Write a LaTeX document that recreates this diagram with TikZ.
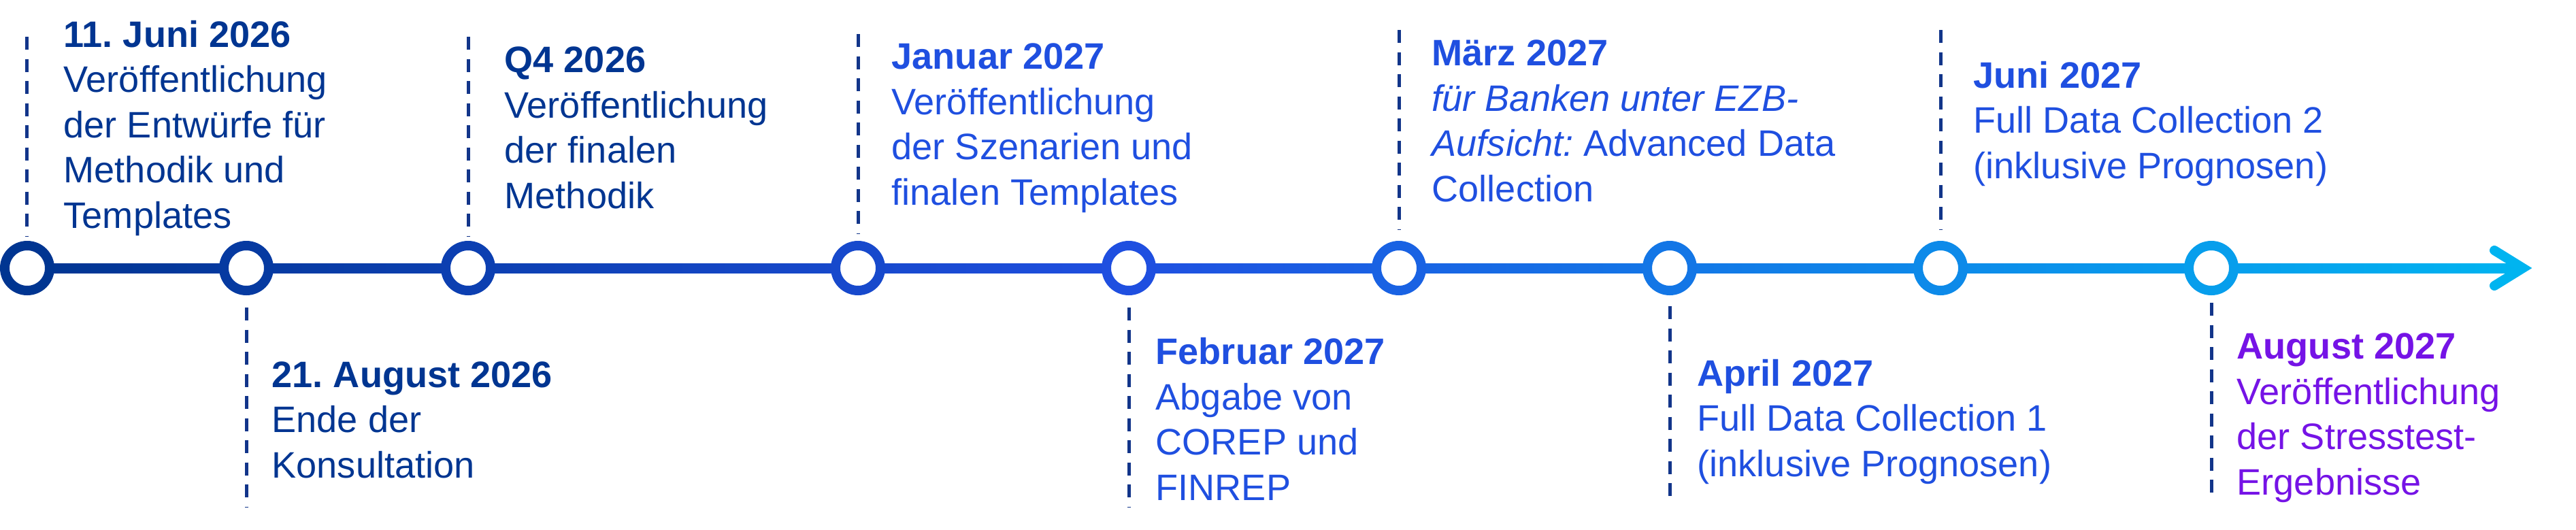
\documentclass[tikz,border=0pt]{standalone}
\usepackage{fontspec}
\setmainfont{Liberation Sans}
\usepackage{xcolor}
\usepackage{tikz}
\usetikzlibrary{backgrounds}
\definecolor{tlnavy}{HTML}{003591}
\definecolor{tlblue}{HTML}{1F4FE0}
\definecolor{tlsky}{HTML}{00B4F0}
\definecolor{tlviolet}{HTML}{7513E6}
\definecolor{tldash}{HTML}{12358A}
\pgfdeclarehorizontalshading{tlgrad}{100bp}{color(0bp)=(tlnavy); color(25bp)=(tlnavy); color(47bp)=(tlblue); color(75bp)=(tlsky); color(100bp)=(tlsky)}
\frenchspacing
\tikzset{
  ring/.style={circle,fill=white,line width=0.14cm,minimum size=0.66cm,inner sep=0pt},
  guide/.style={tldash,line width=0.05cm,dash pattern=on 0.19cm off 0.135cm},
  event/.style={anchor=base west,align=left,inner sep=0pt,font=\fontsize{15.4}{18.9}\selectfont}
}

\begin{document}
\begin{tikzpicture}[x=1cm,y=1cm]
  \useasboundingbox (0,0) rectangle (37.86,7.78);
  % milestones on the time axis
  \node[ring,draw=tlnavy] (m1) at (0.40,3.84) {};
  \node[ring,draw=tlblue!20!tlnavy] (m2) at (3.62,3.84) {};
  \node[ring,draw=tlblue!40!tlnavy] (m3) at (6.88,3.84) {};
  \node[ring,draw=tlblue!75!tlnavy] (m4) at (12.61,3.84) {};
  \node[ring,draw=tlblue] (m5) at (16.59,3.84) {};
  \node[ring,draw=tlsky!19!tlblue] (m6) at (20.56,3.84) {};
  \node[ring,draw=tlsky!39!tlblue] (m7) at (24.54,3.84) {};
  \node[ring,draw=tlsky!58!tlblue] (m8) at (28.52,3.84) {};
  \node[ring,draw=tlsky!78!tlblue] (m9) at (32.50,3.84) {};
  \coordinate (tip) at (37.08,3.84);

  \begin{scope}[on background layer]
    \shade[shading=tlgrad] ([yshift=-0.07cm]m1.center) rectangle ([yshift=0.07cm]tip);
  \end{scope}
  \draw[tlsky,line width=0.14cm,line cap=round] ([shift={(-0.42,0.26)}]tip) -- (tip) -- ([shift={(-0.42,-0.26)}]tip);

  % guides
  \draw[guide] ([yshift=3.40cm]m1.center) -- ([yshift=0.46cm]m1.center);
  \draw[guide] ([yshift=-0.58cm]m2.center) -- ([yshift=-3.51cm]m2.center);
  \draw[guide] ([yshift=3.40cm]m3.center) -- ([yshift=0.46cm]m3.center);
  \draw[guide] ([yshift=3.44cm]m4.center) -- ([yshift=0.50cm]m4.center);
  \draw[guide] ([yshift=-0.58cm]m5.center) -- ([yshift=-3.51cm]m5.center);
  \draw[guide] ([yshift=3.50cm]m6.center) -- ([yshift=0.56cm]m6.center);
  \draw[guide] ([yshift=-0.56cm]m7.center) -- ([yshift=-3.48cm]m7.center);
  \draw[guide] ([yshift=3.50cm]m8.center) -- ([yshift=0.56cm]m8.center);
  \draw[guide] ([yshift=-0.51cm]m9.center) -- ([yshift=-3.43cm]m9.center);

  % labels (anchored at the baseline of their last line)
  \node[event,text=tlnavy] (e1) at (0.93,4.43) {\textbf{11. Juni 2026}\\Veröffentlichung\\der Entwürfe für\\Methodik und\\Templates};
  \node[event,text=tlnavy] (e2) at (3.99,0.76) {\textbf{21. August 2026}\\Ende der\\Konsultation};
  \node[event,text=tlnavy] (e3) at (7.41,4.72) {\textbf{Q4 2026}\\Veröffentlichung\\der finalen\\Methodik};
  \node[event,text=tlblue] (e4) at (13.10,4.77) {\textbf{Januar 2027}\\Veröffentlichung\\der Szenarien und\\finalen Templates};
  \node[event,text=tlblue] (e5) at (16.98,0.43) {\textbf{Februar 2027}\\Abgabe von\\COREP und\\FINREP};
  \node[event,text=tlblue] (e6) at (21.04,4.82) {\textbf{März 2027}\\\textit{für Banken unter EZB-}\\\textit{Aufsicht:} Advanced Data\\Collection};
  \node[event,text=tlblue] (e7) at (24.94,0.78) {\textbf{April 2027}\\Full Data Collection 1\\(inklusive Prognosen)};
  \node[event,text=tlblue] (e8) at (29.00,5.16) {\textbf{Juni 2027}\\Full Data Collection 2\\(inklusive Prognosen)};
  \node[event,text=tlviolet] (e9) at (32.87,0.51) {\textbf{August 2027}\\Veröffentlichung\\der Stresstest-\\Ergebnisse};
\end{tikzpicture}
\end{document}
